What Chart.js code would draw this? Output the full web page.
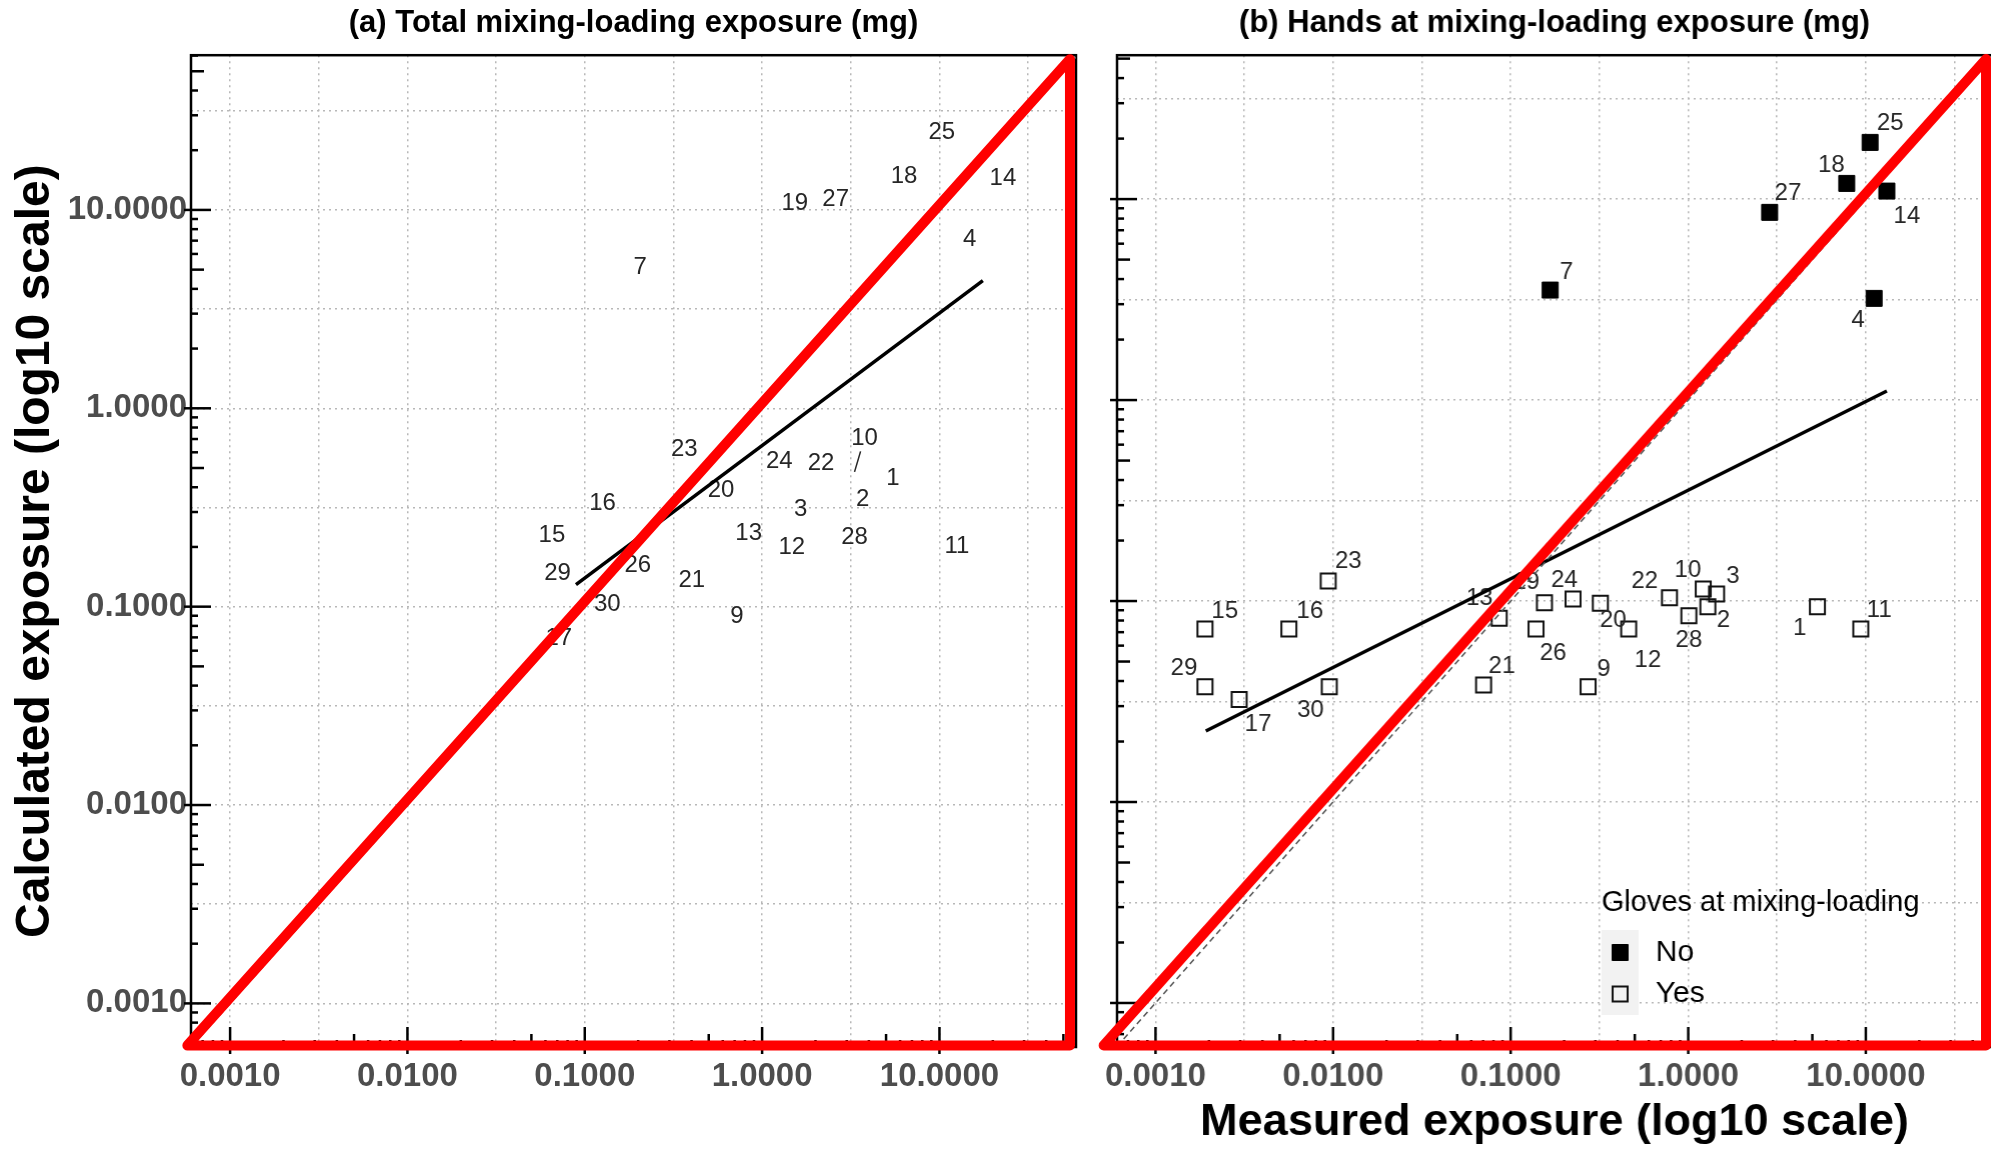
<!DOCTYPE html>
<html>
<head>
<meta charset="utf-8">
<script src="https://cdn.jsdelivr.net/npm/chart.js@4.4.1/dist/chart.umd.min.js"></script>
<style>
  body { margin: 0; background: #fff; width: 1991px; height: 1151px; overflow: hidden; position: relative; }
  .panel { position: absolute; top: 0; height: 1151px; }
  #boxA { left: 0; width: 1090px; }
  /* a little wider than the window: chart.js keeps ~12px free on the right */
  #boxB { left: 1090px; width: 913.6px; }
</style>
</head>
<body>
<div class="panel" id="boxA"><canvas id="chartA"></canvas></div>
<div class="panel" id="boxB"><canvas id="chartB"></canvas></div>
<script>
// operator ids (same for both panels)
let ids = [1,2,3,4,7,9,10,11,12,13,14,15,16,17,18,19,20,21,22,23,24,25,26,27,28,29,30];

// (a) total mixing-loading exposure (mg)
let measuredTotal   = [5.47,3.69,1.65,14.8,0.205,0.721,3.32,12.55,1.47,0.840,22.8,0.0653,0.126,0.0713,6.32,1.53,0.587,0.401,2.15,0.364,1.25,10.3,0.199,2.60,3.32,0.0702,0.134];
let calculatedTotal = [0.444,0.349,0.311,7.09,5.14,0.0895,0.478,0.2025,0.198,0.233,14.5,0.230,0.332,0.0692,14.8,10.85,0.386,0.135,0.528,0.624,0.539,24.5,0.162,11.3,0.2235,0.147,0.103];
let labelMovedA = { 10: [3.78, 0.709] };   // repelled label
let fitXA = [0.0892, 17.57];
let fitYA = [0.1291, 4.402];

// (b) hands at mixing-loading exposure (mg)
let measuredHands   = [5.34,1.29,1.444,11.14,0.167,0.273,1.215,9.37,0.462,0.0862,13.14,0.0019,0.00564,0.00296,7.81,0.155,0.32,0.0704,0.784,0.00939,0.2245,10.57,0.139,2.874,1.008,0.0019,0.00952];
let calculatedHands = [0.0937,0.0937,0.1083,3.206,3.526,0.0375,0.1147,0.0726,0.0726,0.082,10.96,0.0726,0.0726,0.0324,11.97,0.098,0.0974,0.0382,0.1038,0.1257,0.1023,19.15,0.0726,8.59,0.0845,0.0375,0.0375];
let gloves = ['Yes','Yes','Yes','No','No','Yes','Yes','Yes','Yes','Yes','No','Yes','Yes','Yes','No','Yes','Yes','Yes','Yes','Yes','Yes','No','Yes','No','Yes','Yes','Yes'];
let labelXB = [4.244,1.575,1.785,9.05,0.2059,0.3342,0.9948,11.89,0.5918,0.06677,17.03,0.002457,0.00741,0.003785,6.405,0.1225,0.3776,0.08929,0.569,0.01218,0.2006,13.71,0.1732,3.646,1.008,0.001448,0.00747];
let labelYB = [0.0731,0.0798,0.1321,2.5,4.298,0.0457,0.1415,0.0902,0.0509,0.1031,8.17,0.0892,0.0892,0.02443,14.76,0.1233,0.0798,0.04751,0.1247,0.1569,0.1272,23.8,0.0549,10.68,0.064,0.0463,0.0287];
let fitXB = [0.00192, 13.14];
let fitYB = [0.02255, 1.109];

// axis limits (log10) and the red triangle corners
let limitsA = { x: [-3.2205, 1.770], y: [-3.2198, 1.780] };
let limitsB = { x: [-3.2166, 1.7107], y: [-3.219, 1.716] };
let redA = { x: [-3.241, 1.736], y: [-3.212, 1.760] };
let redB = { x: [-3.292, 1.677], y: [-3.211, 1.697] };

Chart.defaults.font.family = '"Liberation Sans", Arial, sans-serif';
Chart.defaults.color = '#000';

function pts(xs, ys) { return xs.map((v, i) => ({ x: v, y: ys[i] })); }

function triangle(r) {
  let x0 = Math.pow(10, r.x[0]), x1 = Math.pow(10, r.x[1]);
  let y0 = Math.pow(10, r.y[0]), y1 = Math.pow(10, r.y[1]);
  return [{x: x0, y: y0}, {x: x1, y: y1}, {x: x1, y: y0}, {x: x0, y: y0}];
}

function logAxis(lim, pad, extra) {
  let min = Math.pow(10, lim[0]), max = Math.pow(10, lim[1]);
  let axis = {
    type: 'logarithmic',
    min: min, max: max, bounds: 'data',
    afterBuildTicks(scale) {
      let t = [];
      for (let e = -4; e <= 2; e += 0.5) {
        let v = Math.pow(10, e);
        if (v > min && v < max) t.push({ value: v });
      }
      scale.ticks = t;
    },
    grid: { color: '#b8b8b8', lineWidth: 1.5, drawTicks: false },
    border: { display: false, dash: [2, 4] },
    ticks: {
      autoSkip: false, maxRotation: 0, padding: pad,
      color: '#4d4d4d',
      font: { size: 33, weight: 'bold' },
      callback(v) {
        let e = Math.log10(v);
        return Math.abs(e - Math.round(e)) < 1e-6 ? v.toFixed(4) : '';
      }
    }
  };
  return Object.assign(axis, extra);
}

// frame + annotation_logticks style ticks
let frameTicks = {
  id: 'frameTicks',
  beforeDatasetsDraw(chart) {
    let { ctx, chartArea: a, scales: { x, y } } = chart;
    ctx.save();
    ctx.strokeStyle = '#000';
    ctx.lineWidth = 2.5;
    ctx.strokeRect(a.left, a.top, a.right - a.left, a.bottom - a.top);
    for (let k = -4; k <= 2; k++) {
      for (let m = 1; m <= 9; m++) {
        let v = m * Math.pow(10, k);
        let len = m === 1 ? 20 : (m === 5 ? 13 : 7);
        let out = m === 1 ? 7 : 0;
        if (v > y.min && v < y.max) {
          let py = y.getPixelForValue(v);
          ctx.beginPath();
          ctx.moveTo(a.left - out, py);
          ctx.lineTo(a.left + len, py);
          ctx.stroke();
        }
        if (v > x.min && v < x.max) {
          let px = x.getPixelForValue(v);
          ctx.beginPath();
          ctx.moveTo(px, a.bottom + out);
          ctx.lineTo(px, a.bottom - len);
          ctx.stroke();
        }
      }
    }
    ctx.restore();
  }
};

function labelPlugin(afterIndex, items) {
  return {
    id: 'idLabels' + afterIndex,
    afterDatasetDraw(chart, args) {
      if (args.index !== afterIndex) return;
      let { ctx, scales: { x, y } } = chart;
      ctx.save();
      ctx.font = '24px "Liberation Sans", Arial, sans-serif';
      ctx.fillStyle = '#262626';
      ctx.textAlign = 'center';
      ctx.textBaseline = 'middle';
      items.forEach(it => {
        let lx = x.getPixelForValue(it.lx), ly = y.getPixelForValue(it.ly);
        if (it.leader) {
          let px = x.getPixelForValue(it.px), py = y.getPixelForValue(it.py);
          let dx = lx - px, dy = ly - py, d = Math.hypot(dx, dy);
          ctx.strokeStyle = '#262626';
          ctx.lineWidth = 1.5;
          ctx.beginPath();
          ctx.moveTo(px, py);
          ctx.lineTo(lx - dx / d * 14, ly - dy / d * 14);
          ctx.stroke();
        }
        ctx.fillText(it.text, lx, ly);
      });
      ctx.restore();
    }
  };
}

let glovesLegend = {
  id: 'glovesLegend',
  afterDraw(chart) {
    let { ctx, chartArea: a } = chart;
    let x0 = a.left + 484;
    ctx.save();
    ctx.fillStyle = '#000';
    ctx.textBaseline = 'middle';
    ctx.textAlign = 'left';
    ctx.font = '29px "Liberation Sans", Arial, sans-serif';
    ctx.fillText('Gloves at mixing-loading', x0, 903);
    ctx.fillStyle = '#f2f2f2';
    ctx.fillRect(x0, 930, 37, 85);
    let rows = [chart.data.datasets[3], chart.data.datasets[4]];
    rows.forEach((ds, i) => {
      let cy = i === 0 ? 952.5 : 994;
      let cx = x0 + 18.5;
      let s = ds.pointRadius * Math.SQRT1_2;
      ctx.beginPath();
      ctx.rect(cx - s, cy - s, 2 * s, 2 * s);
      if (ds.label === 'No') { ctx.fillStyle = ds.backgroundColor; ctx.fill(); }
      ctx.strokeStyle = ds.borderColor;
      ctx.lineWidth = ds.borderWidth;
      ctx.stroke();
      ctx.fillStyle = '#000';
      ctx.font = '30px "Liberation Sans", Arial, sans-serif';
      ctx.fillText(ds.label, x0 + 54, cy);
    });
    ctx.restore();
  }
};

function baseDatasets(red) {
  return [
    { label: 'red', data: triangle(red), showLine: true, borderColor: '#ff0000', borderWidth: 10,
      pointRadius: 0, clip: false, borderJoinStyle: 'round', borderCapStyle: 'round', fill: false },
    { label: 'identity', data: [{x: 1e-4, y: 1e-4}, {x: 100, y: 100}], showLine: true,
      borderColor: '#555', borderWidth: 1.5, borderDash: [6, 4], pointRadius: 0 }
  ];
}

// ---------- panel (a)
let itemsA = ids.map((id, i) => {
  let mv = labelMovedA[id];
  return mv
    ? { text: String(id), lx: mv[0], ly: mv[1], leader: true, px: measuredTotal[i], py: calculatedTotal[i] }
    : { text: String(id), lx: measuredTotal[i], ly: calculatedTotal[i] };
});

new Chart(document.getElementById('chartA'), {
  type: 'scatter',
  data: {
    datasets: baseDatasets(redA).concat([
      { label: 'fit', data: pts(fitXA, fitYA), showLine: true, borderColor: '#000', borderWidth: 3.5, pointRadius: 0 },
      { label: 'operators', data: pts(measuredTotal, calculatedTotal), pointRadius: 0 }
    ])
  },
  options: {
    responsive: true, maintainAspectRatio: false, animation: false,
    layout: { padding: { left: 0, right: 14, top: 0, bottom: 0 } },
    plugins: {
      legend: { display: false },
      tooltip: { enabled: false },
      title: {
        display: true, fullSize: false,
        text: '(a) Total mixing-loading exposure (mg)',
        font: { size: 31, weight: 'bold' }, color: '#000',
        padding: { top: 5, bottom: 13 }
      }
    },
    scales: {
      x: logAxis(limitsA.x, 10, { afterFit(s) { s.height = 104; } }),
      y: Object.assign(logAxis(limitsA.y, 4, { afterFit(s) { s.width = 191; } }), {
        title: { display: true, text: 'Calculated exposure (log10 scale)', color: '#000',
          font: { size: 48, weight: 'bold' }, padding: { top: 7, bottom: 0 } }
      })
    }
  },
  plugins: [frameTicks, labelPlugin(3, itemsA)]
});

// ---------- panel (b)
let itemsB = ids.map((id, i) => ({ text: String(id), lx: labelXB[i], ly: labelYB[i] }));
let noIdx = ids.map((_, i) => i).filter(i => gloves[i] === 'No');
let yesIdx = ids.map((_, i) => i).filter(i => gloves[i] === 'Yes');

let yAxisB = logAxis(limitsB.y, 4, { afterFit(s) { s.width = 27; } });
yAxisB.ticks.display = false;

new Chart(document.getElementById('chartB'), {
  type: 'scatter',
  data: {
    datasets: baseDatasets(redB).concat([
      { label: 'fit', data: pts(fitXB, fitYB), showLine: true, borderColor: '#000', borderWidth: 3.5, pointRadius: 0 },
      { label: 'No', data: noIdx.map(i => ({ x: measuredHands[i], y: calculatedHands[i] })),
        pointStyle: 'rect', pointRadius: 11.3, backgroundColor: '#000', borderColor: '#000', borderWidth: 1 },
      { label: 'Yes', data: yesIdx.map(i => ({ x: measuredHands[i], y: calculatedHands[i] })),
        pointStyle: 'rect', pointRadius: 10.6, backgroundColor: 'rgba(0,0,0,0)', borderColor: '#111', borderWidth: 2 }
    ])
  },
  options: {
    responsive: true, maintainAspectRatio: false, animation: false,
    layout: { padding: { left: 0, right: 0, top: 0, bottom: 0 } },
    plugins: {
      legend: { display: false },
      tooltip: { enabled: false },
      title: {
        display: true, fullSize: false,
        text: '(b) Hands at mixing-loading exposure (mg)',
        font: { size: 31, weight: 'bold' }, color: '#000',
        padding: { top: 5, bottom: 13 }
      }
    },
    scales: {
      x: Object.assign(logAxis(limitsB.x, 10, { afterFit(s) { s.height = 104; } }), {
        title: { display: true, text: 'Measured exposure (log10 scale)', color: '#000',
          font: { size: 45, weight: 'bold' }, padding: { top: 0, bottom: 1 } }
      }),
      y: yAxisB
    }
  },
  plugins: [frameTicks, labelPlugin(3, itemsB), glovesLegend]
});
</script>
</body>
</html>
